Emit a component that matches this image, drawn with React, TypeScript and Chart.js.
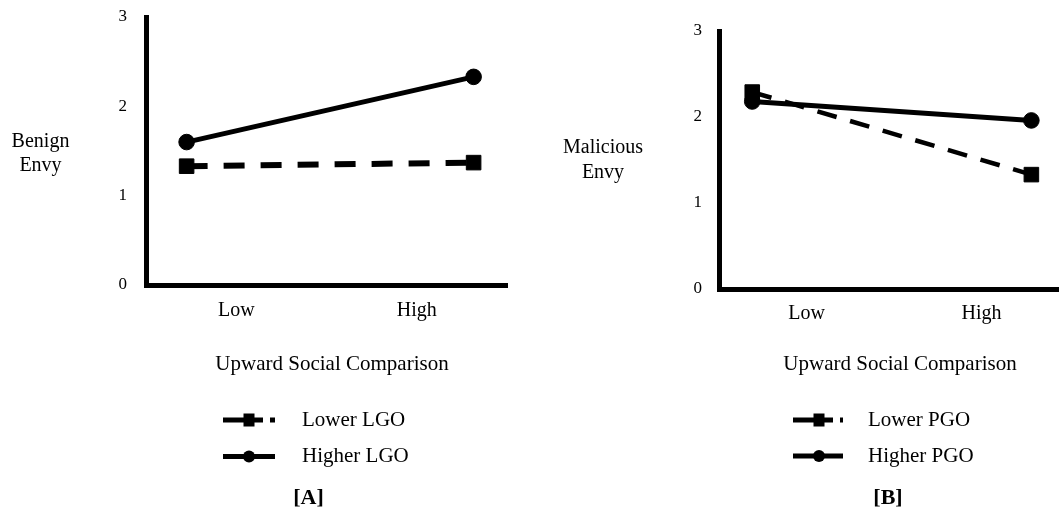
import React, { useEffect, useRef } from 'react';
import { Chart, registerables } from 'chart.js';

Chart.register(...registerables);

// ---- data ----
const categories = ['Low', 'High'];
const categoryPositions = [1, 3];
const yTickValues = [0, 1, 2, 3];
const xAxisTitle = 'Upward Social Comparison';

const pointPositionsA = [0.45, 3.63];
const lowerLGO = [1.33, 1.37];
const higherLGO = [1.6, 2.33];

const pointPositionsB = [0.38, 3.57];
const lowerPGO = [2.29, 1.33];
const higherPGO = [2.18, 1.96];

const yTitleA = ['Benign', 'Envy'];
const yTitleB = ['Malicious', 'Envy'];
const seriesNamesA = ['Lower LGO', 'Higher LGO'];
const seriesNamesB = ['Lower PGO', 'Higher PGO'];
const tagA = '[A]';
const tagB = '[B]';

const SERIF = '"Liberation Serif", "Times New Roman", serif';

const decorPlugin = {
  id: 'decor',
  afterDraw(chart: any, _args: any, opts: any) {
    const ctx = chart.ctx;
    ctx.save();
    ctx.fillStyle = '#000';
    ctx.textBaseline = 'middle';
    ctx.textAlign = 'center';
    ctx.font = `20px ${SERIF}`;
    opts.yTitle.forEach((t: string, i: number) => {
      ctx.fillText(t, opts.yTitleX, opts.yTitleY + i * opts.yTitleGap);
    });
    ctx.font = `21px ${SERIF}`;
    ctx.fillText(opts.xTitle, opts.xTitleX, opts.xTitleY);

    chart.data.datasets.forEach((ds: any, i: number) => {
      const y = opts.legendY + i * opts.legendGap;
      ctx.save();
      ctx.strokeStyle = ds.borderColor;
      ctx.lineWidth = 5;
      ctx.setLineDash(ds.borderDash && ds.borderDash.length ? [40, 7] : []);
      ctx.beginPath();
      ctx.moveTo(opts.legendX1, y);
      ctx.lineTo(opts.legendX2, y);
      ctx.stroke();
      ctx.restore();
      ctx.fillStyle = ds.backgroundColor;
      const mx = opts.legendMarkerX;
      if (ds.pointStyle === 'rect') {
        ctx.fillRect(mx - 5.5, y - 6.5, 11, 13);
      } else {
        ctx.beginPath();
        ctx.arc(mx, y, 6, 0, Math.PI * 2);
        ctx.fill();
      }
      ctx.fillStyle = '#000';
      ctx.textAlign = 'left';
      ctx.font = `21px ${SERIF}`;
      ctx.fillText(ds.label, opts.legendTextX, y);
    });

    ctx.textAlign = 'center';
    ctx.font = `bold 22px ${SERIF}`;
    ctx.fillText(opts.tag, opts.tagX, opts.tagY);
    ctx.restore();
  },
};

type PanelCfg = {
  width: number;
  height: number;
  area: { left: number; right: number; top: number; bottom: number };
  yPad: number;
  xPad: number;
  positions: number[];
  lower: number[];
  higher: number[];
  names: string[];
  lowerDash: number[];
  lowerWidth: number;
  decor: any;
};

function buildConfig(p: PanelCfg): any {
  return {
    type: 'line',
    data: {
      datasets: [
        {
          label: p.names[0],
          data: p.positions.map((x, i) => ({ x, y: p.lower[i] })),
          borderColor: '#000',
          backgroundColor: '#000',
          borderWidth: p.lowerWidth,
          borderDash: p.lowerDash,
          pointStyle: 'rect',
          pointRadius: 10.3,
          pointBorderWidth: 1,
          pointBackgroundColor: '#000',
          pointBorderColor: '#000',
        },
        {
          label: p.names[1],
          data: p.positions.map((x, i) => ({ x, y: p.higher[i] })),
          borderColor: '#000',
          backgroundColor: '#000',
          borderWidth: 5,
          pointStyle: 'circle',
          pointRadius: 7.8,
          pointBorderWidth: 1,
          pointBackgroundColor: '#000',
          pointBorderColor: '#000',
        },
      ],
    },
    options: {
      responsive: false,
      animation: false,
      events: [],
      devicePixelRatio: 1,
      layout: {
        padding: {
          left: 0,
          top: p.area.top,
          right: p.width - p.area.right,
          bottom: 0,
        },
      },
      plugins: {
        legend: { display: false },
        tooltip: { enabled: false },
        title: { display: false },
        decor: p.decor,
      },
      scales: {
        x: {
          type: 'linear',
          position: 'bottom',
          min: 0,
          max: 4,
          grid: { display: false, drawTicks: false },
          border: { display: true, color: '#000', width: 5 },
          afterBuildTicks: (s: any) => {
            s.ticks = categoryPositions.map((v) => ({ value: v }));
          },
          afterFit: (s: any) => {
            s.height = p.height - p.area.bottom;
            s.paddingLeft = 0;
            s.paddingRight = 0;
          },
          ticks: {
            autoSkip: false,
            maxRotation: 0,
            padding: p.xPad,
            color: '#000',
            font: { family: SERIF, size: 20 },
            callback: (_v: any, i: number) => categories[i],
          },
        },
        y: {
          type: 'linear',
          position: 'left',
          min: 0,
          max: 3,
          grid: { display: false, drawTicks: false },
          border: { display: true, color: '#000', width: 5 },
          afterBuildTicks: (s: any) => {
            s.ticks = yTickValues.map((v) => ({ value: v }));
          },
          afterFit: (s: any) => {
            s.width = p.area.left;
            s.paddingTop = 0;
            s.paddingBottom = 0;
          },
          ticks: {
            padding: p.yPad,
            color: '#000',
            font: { family: SERIF, size: 17 },
            callback: (v: any) => String(v),
          },
        },
      },
    },
    plugins: [decorPlugin],
  };
}

function Panel({ cfg, left }: { cfg: PanelCfg; left: number }) {
  const ref = useRef<HTMLCanvasElement | null>(null);
  useEffect(() => {
    if (!ref.current) return;
    const chart = new Chart(ref.current, buildConfig(cfg));
    return () => chart.destroy();
  }, []);
  return (
    <canvas
      ref={ref}
      width={cfg.width}
      height={cfg.height}
      style={{ position: 'absolute', left, top: 0, width: cfg.width, height: cfg.height }}
    />
  );
}

const panelACfg: PanelCfg = {
  width: 530,
  height: 516,
  area: { left: 146, right: 507, top: 17, bottom: 285 },
  yPad: 19,
  xPad: 14,
  positions: pointPositionsA,
  lower: lowerLGO,
  higher: higherLGO,
  names: seriesNamesA,
  lowerDash: [21, 16],
  lowerWidth: 6,
  decor: {
    yTitle: yTitleA,
    yTitleX: 40.5,
    yTitleY: 142,
    yTitleGap: 24,
    xTitle: xAxisTitle,
    xTitleX: 332,
    xTitleY: 364,
    legendX1: 223,
    legendX2: 275,
    legendMarkerX: 249,
    legendTextX: 302,
    legendY: 420,
    legendGap: 36.5,
    tag: tagA,
    tagX: 308.5,
    tagY: 498,
  },
};

const panelBCfg: PanelCfg = {
  width: 560,
  height: 516,
  area: { left: 189, right: 539, top: 31, bottom: 289 },
  yPad: 17,
  xPad: 13,
  positions: pointPositionsB,
  lower: lowerPGO,
  higher: higherPGO,
  names: seriesNamesB,
  lowerDash: [20, 14],
  lowerWidth: 4.5,
  decor: {
    yTitle: yTitleB,
    yTitleX: 73,
    yTitleY: 148,
    yTitleGap: 25,
    xTitle: xAxisTitle,
    xTitleX: 370,
    xTitleY: 364,
    legendX1: 263,
    legendX2: 313,
    legendMarkerX: 289,
    legendTextX: 338,
    legendY: 420,
    legendGap: 36,
    tag: tagB,
    tagX: 358,
    tagY: 498,
  },
};

export default function App() {
  return (
    <div
      style={{
        position: 'absolute',
        left: 0,
        top: 0,
        width: 1059,
        height: 516,
        overflow: 'hidden',
        background: '#fff',
      }}
    >
      <Panel cfg={panelACfg} left={0} />
      <Panel cfg={panelBCfg} left={530} />
    </div>
  );
}
